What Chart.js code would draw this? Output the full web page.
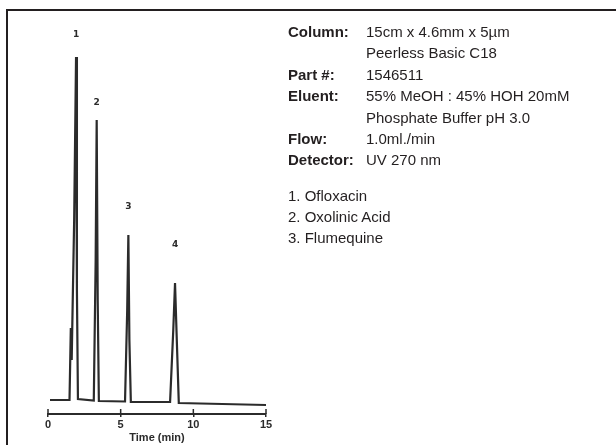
<!DOCTYPE html>
<html>
<head>
<meta charset="utf-8">
<script src="https://cdn.jsdelivr.net/npm/chart.js@4/dist/chart.umd.min.js"></script>
<style>
  html, body { margin: 0; padding: 0; background: #fff; }
  #wrap { position: relative; width: 616px; height: 445px; overflow: hidden; }
  #frame { position: absolute; left: 6px; top: 9px; width: 700px; height: 500px;
           border-top: 2px solid #231f20; border-left: 2px solid #231f20; }
  canvas { position: absolute; left: 0; top: 0; }
  .info { position: absolute; font-family: "Liberation Sans", Arial, sans-serif; font-size: 15px; color: #231f20; }
  .row { position: relative; height: 21.4px; line-height: 21.4px; white-space: nowrap; }
  .row b { position: absolute; left: 0; }
  .row span { position: absolute; left: 78px; }
  .lst div { height: 20.8px; line-height: 20.8px; white-space: nowrap; }
</style>
</head>
<body>
<div id="wrap">
  <div id="frame"></div>
  <canvas id="c" width="616" height="445"></canvas>
  <div class="info" id="cond" style="left:288px; top:21px;"></div>
  <div class="info lst" id="list" style="left:288px; top:186px;"></div>
</div>
<script>
// ---- data ----
const times  = [0.14, 1.48, 1.57, 1.63, 1.80, 1.93, 1.99, 2.06, 3.15, 3.28, 3.35, 3.42, 3.50, 5.30, 5.45, 5.53, 5.60, 5.70, 8.40, 8.62, 8.74, 8.84, 9.00, 12.0, 15.0];
const signal = [0,    0,    72,   40,   180,  343,  110,  1,    -0.5, 140,  280,  100,  -1,   -1.5, 90,   165,  60,   -2,   -2,   70,   117,  70,   -3,   -4,   -5];
const peakTimes   = [1.93, 3.35, 5.53, 8.74];
const peakNumbers = ["1", "2", "3", "4"];
const peakLabelY  = [365, 297, 193, 155];
const xTicks = [0, 5, 10, 15];

const condLabels = ["Column:", "", "Part #:", "Eluent:", "", "Flow:", "Detector:"];
const condValues = ["15cm x 4.6mm x 5µm", "Peerless Basic C18", "1546511", "55% MeOH : 45% HOH 20mM", "Phosphate Buffer pH 3.0", "1.0ml./min", "UV 270 nm"];
const compounds  = ["1. Ofloxacin", "2. Oxolinic Acid", "3. Flumequine"];

// ---- text panel ----
const cond = document.getElementById('cond');
condLabels.forEach((l, i) => {
  const r = document.createElement('div'); r.className = 'row';
  const b = document.createElement('b'); b.textContent = l;
  const s = document.createElement('span'); s.textContent = condValues[i];
  r.appendChild(b); r.appendChild(s); cond.appendChild(r);
});
const list = document.getElementById('list');
compounds.forEach(c => { const d = document.createElement('div'); d.textContent = c; list.appendChild(d); });

// ---- chart ----
const ink = '#2b2b2b';
const peakLabelPlugin = {
  id: 'peakLabels',
  afterDatasetsDraw(chart) {
    const {ctx, scales: {x, y}} = chart;
    ctx.save();
    ctx.fillStyle = ink;
    ctx.font = 'bold 9px "DejaVu Sans", sans-serif';
    ctx.textAlign = 'center';
    ctx.textBaseline = 'middle';
    peakTimes.forEach((t, i) => ctx.fillText(peakNumbers[i], x.getPixelForValue(t), y.getPixelForValue(peakLabelY[i])));
    // upward part of the axis tick marks
    ctx.strokeStyle = ink; ctx.lineWidth = 1.5;
    xTicks.forEach(v => {
      const px = x.getPixelForValue(v);
      ctx.beginPath(); ctx.moveTo(px, chart.chartArea.bottom); ctx.lineTo(px, chart.chartArea.bottom - 5); ctx.stroke();
    });
    ctx.restore();
  }
};

new Chart(document.getElementById('c'), {
  type: 'line',
  data: {
    datasets: [{
      data: times.map((t, i) => ({x: t, y: signal[i]})),
      borderColor: ink,
      borderWidth: 2.2,
      pointRadius: 0,
      tension: 0,
      fill: false
    }]
  },
  options: {
    responsive: false,
    animation: false,
    events: [],
    layout: { padding: { left: 48, right: 350, top: 30, bottom: 0 } },
    plugins: { legend: { display: false }, tooltip: { enabled: false } },
    scales: {
      x: {
        type: 'linear', min: 0, max: 15,
        afterBuildTicks: s => { s.ticks = xTicks.map(v => ({value: v})); },
        afterFit: s => { s.height = 31; },
        border: { display: true, color: ink, width: 2 },
        grid: { display: true, drawOnChartArea: false, drawTicks: true, tickLength: 3, color: ink, lineWidth: 1.5 },
        ticks: { color: ink, padding: 1, maxRotation: 0, font: { family: '"Liberation Sans", Arial, sans-serif', size: 11, weight: 'bold' } },
        title: { display: true, text: 'Time (min)', color: ink, padding: 0,
                 font: { family: '"Liberation Sans", Arial, sans-serif', size: 11, weight: 'bold' } }
      },
      y: { display: false, min: -14, max: 370 }
    }
  },
  plugins: [peakLabelPlugin]
});
</script>
</body>
</html>
